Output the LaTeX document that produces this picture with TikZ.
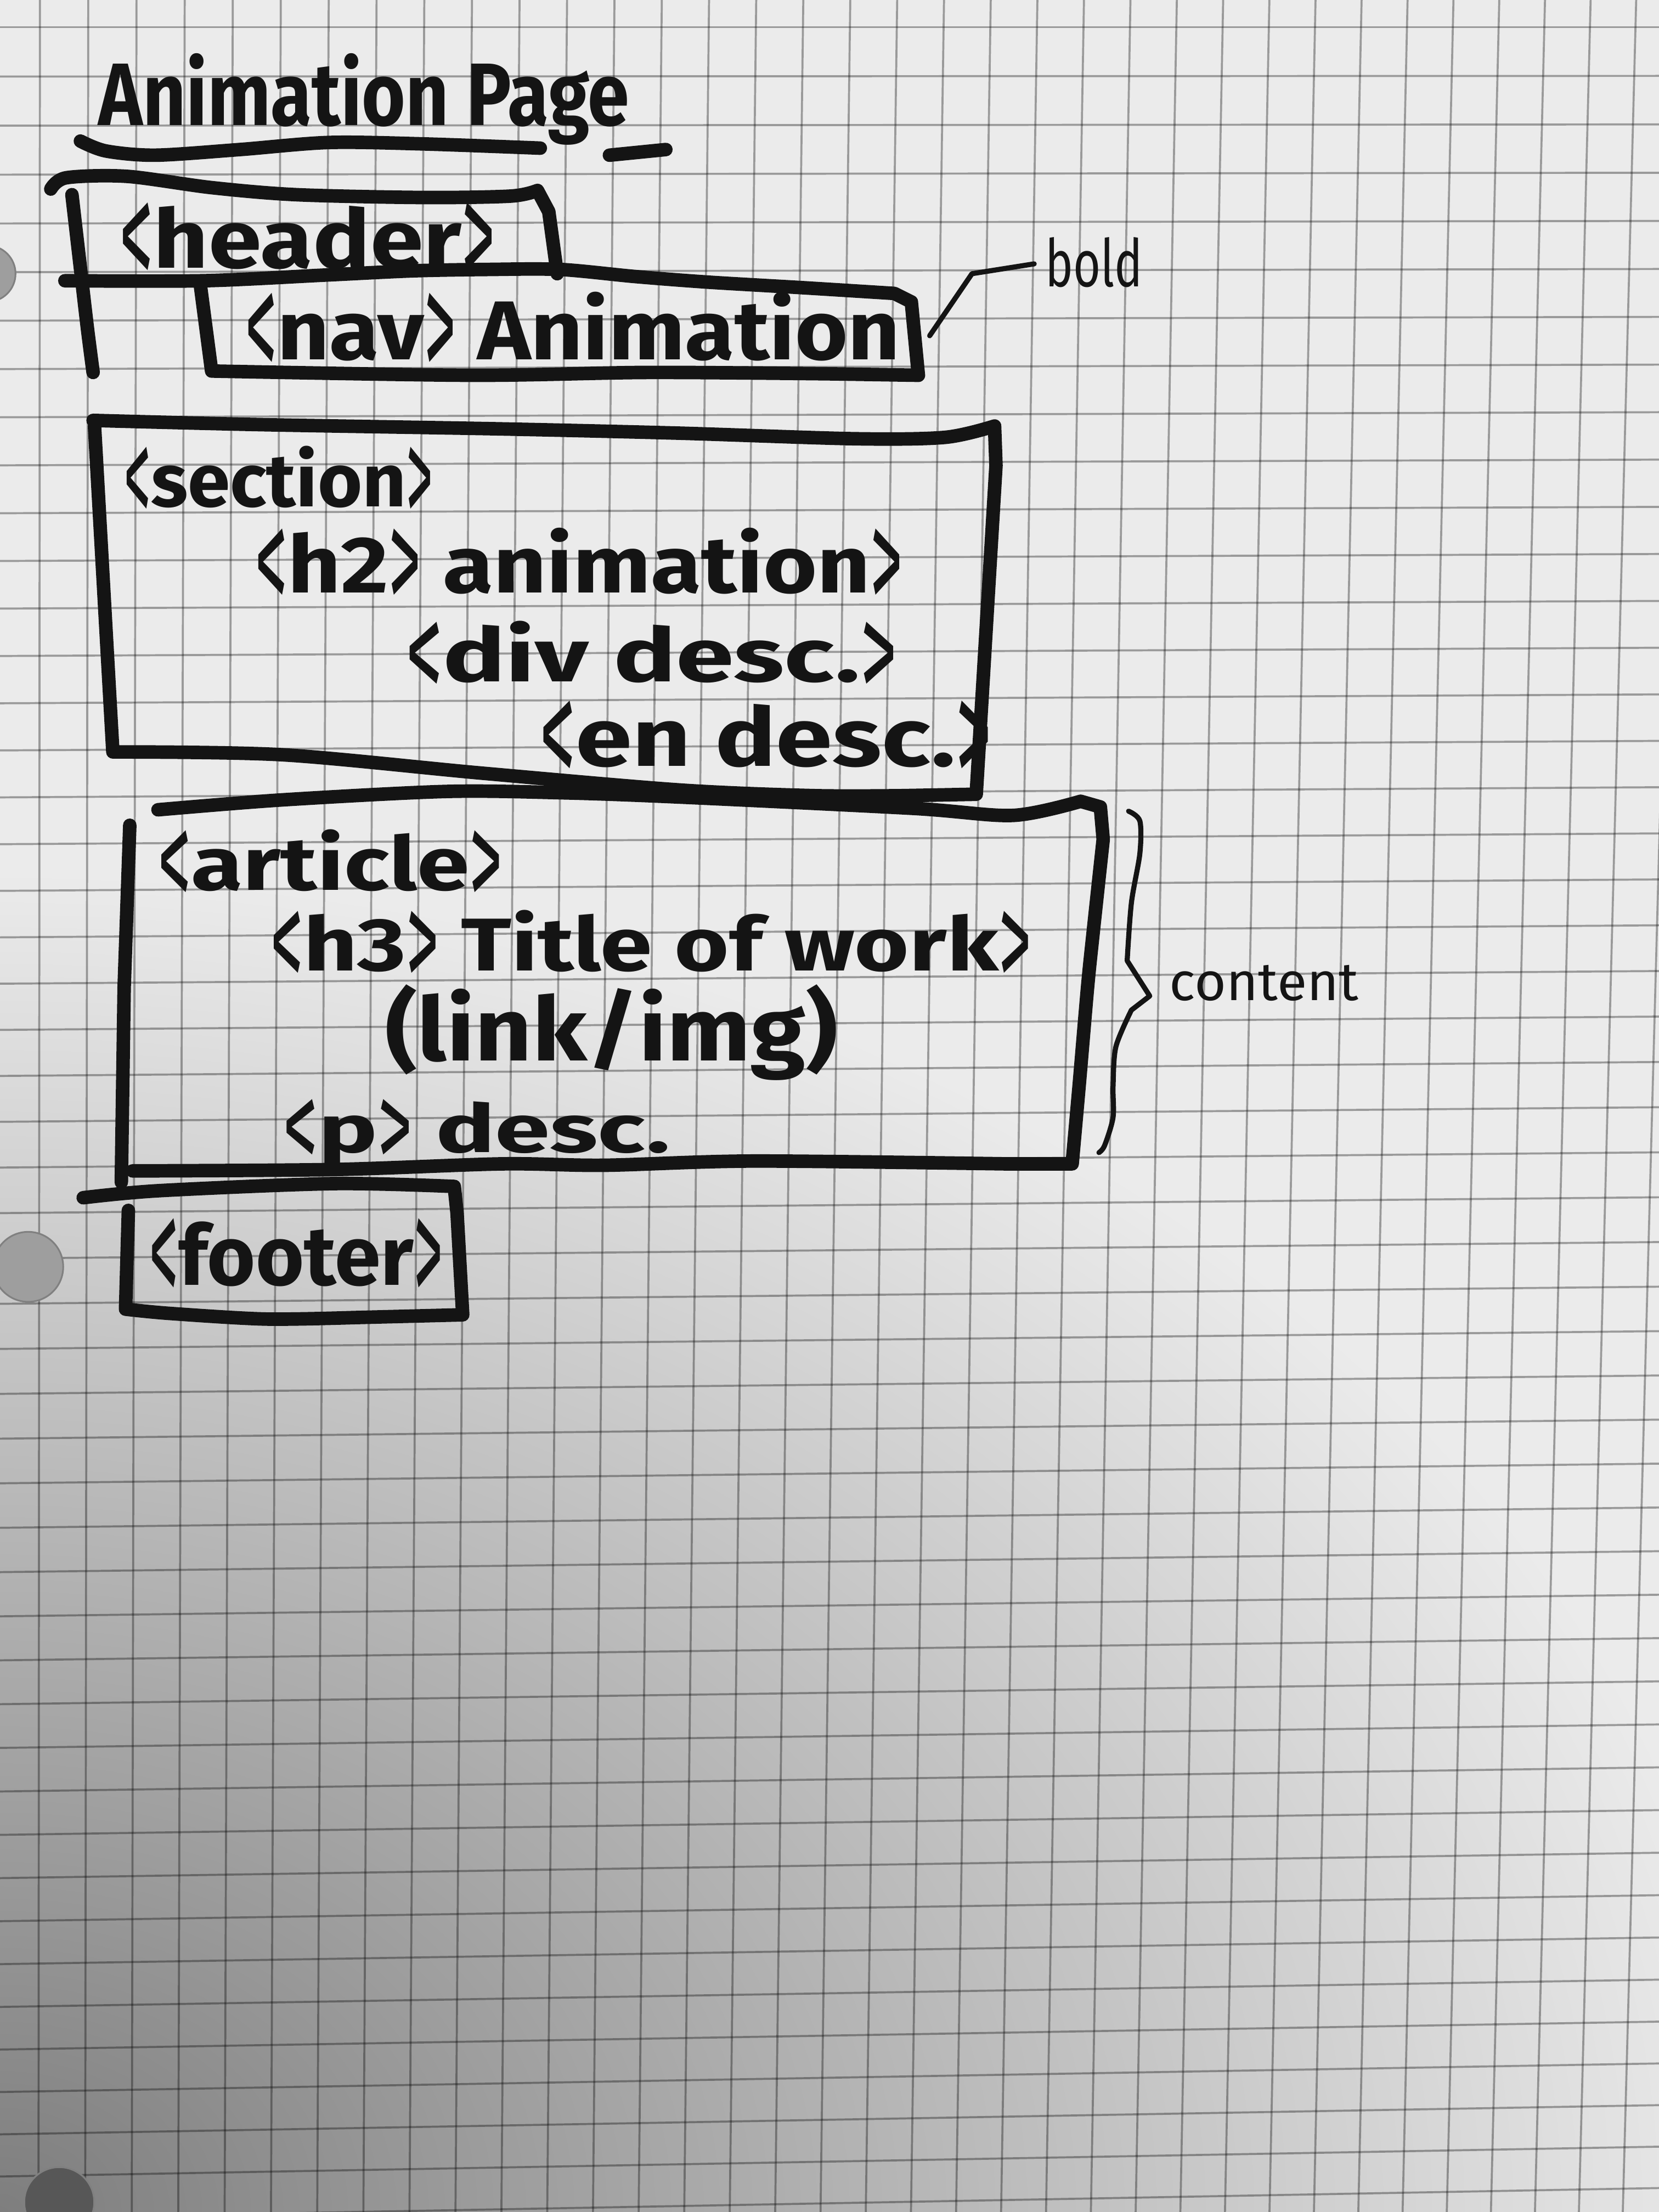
\documentclass[tikz,border=0pt]{standalone}
\usepackage{fontspec}
\setmainfont{Fira Sans}
\usepackage{graphicx}
\newlength\un
\setlength\un{0.025cm}
% hand-lettered line squeezed into a given width and height (in drawing units)
\newcommand\hw[3]{\resizebox{#1\un}{#2\un}{#3}}
% tall, narrow angle brackets as written with a marker (box kept to letter height)
\newcommand\opb{\raisebox{-0.25em}[0.7em][0pt]{\scalebox{0.7}[1.9]{\mdseries <}}}
\newcommand\clb{\raisebox{-0.25em}[0.7em][0pt]{\scalebox{0.7}[1.9]{\mdseries >}}}
\definecolor{paper}{HTML}{EBEBEB}
\definecolor{paperdark}{HTML}{7E7E7E}
\definecolor{inkc}{HTML}{141414}
\definecolor{holec}{HTML}{9E9E9E}
\definecolor{holedark}{HTML}{575757}

\begin{document}
\begin{tikzpicture}[x=0.025cm,y=-0.025cm,
  txt/.style={anchor=base west,inner sep=0pt,outer sep=0pt,text=inkc},
  ink/.style={draw=inkc,line width=0.24cm,line cap=round,line join=round},
  pen/.style={draw=inkc,line width=0.09cm,line cap=round,line join=round},
  gridline/.style={draw=black,opacity=0.34,line width=0.036cm},
  hole/.style={fill=holec,draw=black!50,line width=0.03cm}]
\useasboundingbox (0,0) rectangle (1176,1568);

% ---- squared paper with the shadow in the lower left ----
\begin{scope}
  \clip (0,0) rectangle (1176,1568);
  \fill[paper] (0,0) rectangle (1176,1568);
  \shade[inner color=paperdark,outer color=paper] (-1250,618) rectangle (1250,2518);
  \foreach \k in {0,...,49}{
    \pgfmathsetmacro\ya{19.3+35*\k-0.055*\k*\k}
    \pgfmathsetmacro\yb{\ya-0.45*\k}
    \draw[gridline] (0,\ya) -- (1176,\yb);
  }
  \foreach \j in {0,...,35}{
    \pgfmathsetmacro\xa{28.3+34.3*\j-0.03*\j*\j}
    \pgfmathsetmacro\xb{0.965*\xa}
    \draw[gridline] (\xa,0) -- (\xb,1568);
  }
  % binder holes
  \path[hole] (-9,194) circle (0.5cm);
  \path[hole] (20,898) circle (0.62cm);
  \path[hole,fill=holedark] (42,1561) circle (0.62cm);
\end{scope}

% ---- title ----
\node[txt] (title) at (70,89) {\hw{376}{51}{\bfseries Animation Page}};
\draw[ink] plot[smooth] coordinates {(57,100) (75,107) (110,110) (170,106) (233,101) (300,102) (383,105)};
\draw[ink] (432,110) -- (472,106);

% ---- header and nav ----
\node[txt] (header) at (85,190) {\hw{266}{44}{\bfseries\opb header\clb}};
\node[txt] (nav) at (174,255) {\hw{464}{48}{\bfseries\opb nav\clb{} Animation}};
\draw[ink] plot[smooth] coordinates {(36,134) (47,126) (90,125) (150,133) (210,138) (300,140) (362,139) (381,135)} -- (389,150) -- (395,194);
\draw[ink] plot[smooth] coordinates {(51,138) (57,190) (62,233) (66,264)};
\draw[ink] plot[smooth] coordinates {(46,199) (144,199) (230,195) (292,192) (345,191) (397,191) (450,196) (502,200) (570,204) (634,208)}
  -- (646,214) -- (651,266)
  -- plot[smooth] coordinates {(590,265) (460,264) (334,266) (150,263)} -- (142,202);

% note on the nav text
\node[txt] (boldnote) at (741,203) {\hw{69}{35}{bold}};
\coordinate (leadfoot) at (659,238);
\draw[pen,shorten >=0.2cm] (leadfoot) -- (689,194) -- (boldnote.west);

% ---- section ----
\node[txt] (section) at (88,359) {\hw{219}{43}{\bfseries\opb section\clb}};
\node[txt] (htwo) at (181,420) {\hw{459}{46}{\bfseries\opb h2\clb{} animation\clb}};
\node[txt] (divdesc) at (288,483) {\hw{348}{43}{\bfseries\opb div desc.\clb}};
\node[txt] (endesc) at (383,543) {\hw{320}{44}{\bfseries\opb en desc.\clb}};
\draw[ink] plot[smooth] coordinates {(66,298) (185,301) (354,304) (480,307) (606,311) (670,310) (705,302)}
  -- (706,330) -- (697,480) -- (692,563)
  -- plot[smooth] coordinates {(640,564) (577,564) (482,560) (341,548) (200,535) (80,533)} -- (67,302);

% ---- article ----
\node[txt] (article) at (112,631) {\hw{244}{43}{\bfseries\opb article\clb}};
\node[txt] (hthree) at (192,688) {\hw{539}{43}{\bfseries\opb h3\clb{} Title of work\clb}};
\node[txt] (linkimg) at (273,752) {\hw{321}{54}{\bfseries(link/img)}};
\node[txt] (para) at (201,817) {\hw{274}{36}{\bfseries\opb p\clb{} desc.}};
\draw[ink] plot[smooth] coordinates {(112,574) (200,567) (317,561) (400,562) (482,565) (647,573) (718,578) (766,568)}
  -- (780,572)
  -- plot[smooth] coordinates {(782,595) (775,660) (771,699) (765,769) (760,825)}
  -- plot[smooth] coordinates {(713,825) (534,823) (428,826) (356,825) (237,829) (94,830)};
\draw[ink] (92,585) -- (88,700) -- (86,838);

% brace grouping the article as content
\draw[pen] plot[smooth] coordinates {(800,575) (808,582) (808,605) (802,640) (799,681)}
  -- (815,706)
  -- plot[smooth] coordinates {(802,716) (791,742) (789,770) (789,792) (783,812) (779,817)};
\node[txt] (contentnote) at (829,709) {\hw{134}{25}{content}};

% ---- footer ----
\node[txt] (footer) at (106,911) {\hw{208}{45}{\bfseries\opb footer\clb}};
\draw[ink] plot[smooth] coordinates {(59,849) (113,844) (237,839) (322,841)}
  -- (324,860) -- (328,932)
  -- plot[smooth] coordinates {(250,934) (188,935) (120,931) (89,928)} -- (91,858);
\end{tikzpicture}
\end{document}
